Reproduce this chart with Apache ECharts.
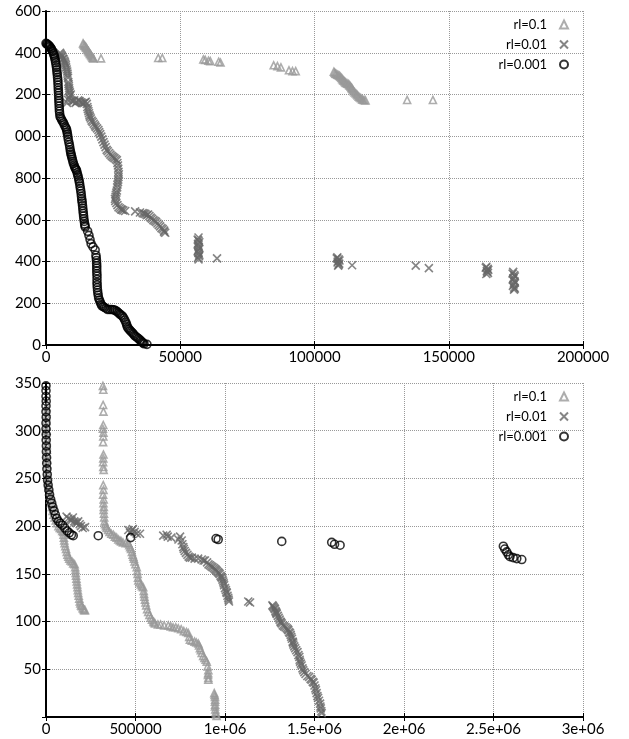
<!DOCTYPE html>
<html>
<head>
<meta charset="utf-8">
<script src="https://cdn.jsdelivr.net/npm/echarts@6/dist/echarts.min.js"></script>
<style>
  html, body { margin: 0; padding: 0; background: #fff; }
  #chart { width: 629px; height: 739px; }
</style>
</head>
<body>
<div id="chart"></div>
<script>
// series names
const seriesNames = ["rl=0.1", "rl=0.01", "rl=0.001"];

// top panel tick labels (left part of the y labels is cut off in the picture)
const topXLabels = ["0", "50000", "100000", "150000", "200000"];
const topYLabels = ["0", "200", "400", "600", "800", "000", "200", "400", "600"];
// bottom panel tick labels
const botXLabels = ["0", "500000", "1e+06", "1.5e+06", "2e+06", "2.5e+06", "3e+06"];
const botYLabels = ["", "50", "100", "150", "200", "250", "300", "350"];

// ---- top panel ----
const topTriX = [13800, 14300, 14800, 15300, 15800, 16300, 16800, 17300, 17700, 20500,
  41800, 43300, 58600, 59300, 60500, 61200, 64300, 65000, 84800, 86200, 87500, 90500, 91800, 93000,
  107200, 107800, 108500, 109300, 110000, 110600, 111200, 111800, 112600, 113200, 113800, 114300,
  115000, 115800, 116500, 117300, 118000, 119000, 134500, 144100,
  14000, 14500, 15000, 15500, 16000, 16500, 17000, 17500,
  107500, 108100, 108900, 109600, 110300, 110900, 111500, 112200, 112900, 113500, 114000, 114600,
  115400, 116100, 116900, 117700, 118500];
const topTriY = [1445, 1435, 1428, 1418, 1408, 1398, 1388, 1378, 1373, 1373,
  1375, 1375, 1368, 1366, 1362, 1360, 1357, 1353, 1340, 1336, 1330, 1316, 1312, 1312,
  1309, 1300, 1295, 1290, 1280, 1270, 1262, 1255, 1250, 1242, 1232, 1222,
  1210, 1200, 1190, 1182, 1175, 1172, 1174, 1174,
  1440, 1432, 1424, 1413, 1403, 1393, 1383, 1375,
  1305, 1298, 1292, 1285, 1275, 1266, 1258, 1252, 1246, 1237, 1228, 1216,
  1205, 1195, 1186, 1178, 1173];

const topCrossX = [5200, 5600, 6000, 6500, 7000, 7400, 7700, 8000, 8200, 8300, 8500, 8700, 9000,
  8200, 7800, 9500, 10500, 11400, 12500, 13500, 14500, 15200, 15600, 16000, 16400, 17000, 17800,
  18500, 19500, 20200, 21000, 21800, 22600, 23500, 24500, 25500, 26400, 26800, 27000, 27000, 26800,
  26500, 26400, 26000, 25700, 26200, 27000, 28000, 28800, 33200, 36000, 37000, 38000, 39000, 40000,
  41000, 42000, 43000, 44000, 44400,
  56800, 56800, 56600, 56900, 56700, 56800, 57000, 56800, 63700,
  108500, 109000, 108700, 109200, 108800, 114000, 137700, 142600,
  164000, 164500, 164200, 164600,
  174000, 174400, 174100, 174500, 174200, 174400, 174300,
  5400, 5900, 6300, 6800, 7200, 7500, 7900, 8100, 8400, 8600, 8900, 9200, 8600,
  10000, 11000, 12000, 13000, 14000, 14800,
  15400, 15800, 16200, 16700, 17400, 18200, 19000, 19800, 20600, 21400, 22200, 23000, 24000, 25000,
  26000, 26600, 26900, 27100, 26900, 26600, 26200, 25900, 25800, 26600, 27500, 28300, 29500,
  35000, 36500, 37500, 38500, 39500, 40500, 41500, 42500, 43500, 44000,
  56500, 57100, 56700, 57000, 56500, 57100, 56600,
  108300, 109300, 108600, 109000,
  163800, 164700, 164300, 164000,
  173800, 174600, 173900, 174600, 173900, 174600];
const topCrossY = [1400, 1390, 1380, 1370, 1355, 1340, 1320, 1300, 1280, 1260, 1240, 1220, 1195,
  1175, 1160, 1170, 1172, 1165, 1168, 1160, 1162, 1155, 1130, 1110, 1093, 1075, 1060,
  1045, 1030, 1010, 985, 960, 935, 920, 905, 895, 885, 860, 830, 805, 780,
  755, 740, 720, 700, 680, 660, 650, 645, 640, 632, 628, 625, 610, 598,
  590, 575, 560, 548, 538,
  515, 500, 485, 470, 455, 440, 425, 410, 415,
  420, 410, 400, 390, 380, 382, 380, 368,
  375, 365, 355, 345,
  350, 335, 320, 305, 290, 275, 265,
  1395, 1385, 1372, 1362, 1348, 1330, 1310, 1290, 1250, 1230, 1210, 1200, 1185,
  1168, 1160, 1172, 1163, 1158, 1165,
  1140, 1120, 1100, 1085, 1068, 1052, 1038, 1020, 998, 972, 948, 928, 912, 900,
  890, 872, 845, 818, 792, 768, 730, 710, 690, 670, 655, 648, 642,
  635, 630, 622, 618, 605, 594, 582, 568, 555, 542,
  505, 492, 478, 462, 448, 432, 418,
  415, 405, 395, 385,
  370, 360, 350, 340,
  342, 328, 312, 298, 283, 270];

const topCircX = [0, 500, 1000, 1500, 2000, 2500, 2800, 3200, 3500, 3800, 4000, 4200, 4400, 4500,
  4600, 4700, 4800, 4900, 5000, 5200, 5800, 6500, 7200, 7700, 8000, 8300, 8700, 9000, 9300, 9600,
  10000, 10500, 11000, 11400, 11800, 12200, 12500, 12800, 13100, 13300, 13500, 13700, 13900, 14100,
  14400, 14600, 15500, 16000, 16400, 16800, 17500, 18300, 18600, 18800, 18900, 18900, 19000, 19000,
  19100, 19300, 19600, 20200, 20800, 21800, 23000, 24500, 25500, 26500, 27500, 28500, 29300, 30000,
  30500, 31300, 32200, 33000, 34000, 35000, 35800, 36500, 37600,
  300, 800, 1300, 1800, 2300, 3000, 3300, 3600, 3900, 4100, 4300, 4450, 4550, 4650, 4750, 4850,
  4950, 5100, 5500, 6100, 6800, 7500, 7850, 8150, 8500, 8850, 9150, 9450, 9800, 10200, 10700,
  11200, 11600, 12000, 12350, 12650, 12950, 13200, 13400, 13600, 13800, 14000, 14250, 14500,
  18700, 18850, 18900, 18950, 19000, 19050, 19200, 19450, 19900, 20500, 21300, 22400, 23800,
  25000, 26000, 27000, 28000, 28900, 29700, 30200, 30900, 31700, 32600, 33500, 34500, 35400, 36100];
const topCircY = [1445, 1440, 1435, 1428, 1418, 1405, 1395, 1380, 1362, 1340, 1318, 1295, 1270, 1245,
  1220, 1195, 1170, 1145, 1120, 1095, 1080, 1065, 1045, 1030, 1010, 985, 960, 935, 915, 900,
  880, 860, 845, 835, 815, 795, 775, 750, 725, 700, 680, 655, 630, 605,
  580, 565, 545, 525, 505, 485, 470, 455, 430, 405, 380, 355, 330, 300,
  275, 250, 225, 205, 188, 180, 170, 170, 168, 160, 148, 138, 120, 100,
  82, 70, 58, 45, 35, 24, 14, 6, 3,
  1443, 1438, 1431, 1422, 1410, 1388, 1372, 1352, 1330, 1306, 1282, 1258, 1232, 1208, 1182, 1158,
  1132, 1108, 1088, 1072, 1055, 1038, 1020, 998, 972, 948, 925, 908, 890, 870, 852,
  840, 825, 805, 785, 762, 738, 712, 690, 668, 642, 618, 592, 572,
  418, 392, 368, 342, 315, 288, 262, 238, 215, 196, 184, 175, 170,
  169, 164, 154, 143, 130, 110, 90, 76, 64, 52, 40, 30, 19, 10];

// ---- bottom panel ----
const botTriX = [3000, 2000, 3000, 2000, 4000, 4000, 6000, 8000, 12000, 18000, 25000, 33000, 42000,
  55000, 70000, 85000, 97000, 100000, 104000, 112000, 120000, 130000, 145000, 160000, 165000, 168000,
  172000, 176000, 180000, 186000, 192000, 200000, 210000, 218000,
  318000, 320000, 319000, 321000, 320000, 318000, 321000, 320000, 319000, 321000, 320000, 319000,
  320000, 322000, 320000, 321000, 319000, 322000, 321000, 323000, 322000, 324000, 325000, 327000,
  330000, 339000, 355000, 376000, 395000, 413000, 430000, 460000, 470000, 480000, 488000, 495000,
  507000, 512000, 516000, 530000, 543000, 548000, 553000, 560000, 571000, 585000, 600000, 609000,
  640000, 683000, 710000, 739000, 770000, 795000, 804000, 830000, 851000, 860000, 870000, 885000,
  898000, 907000, 905000, 907000, 940000, 944000, 944000, 944000, 948000, 953000,
  2500, 2500, 3000, 3000, 5000, 5000, 7000, 10000, 15000, 21000, 29000, 37000, 48000, 62000, 77000,
  91000, 98000, 102000, 108000, 116000, 125000, 137000, 152000, 163000, 166000, 170000, 174000,
  178000, 183000, 189000, 196000, 205000, 214000,
  335000, 347000, 365000, 385000, 404000, 420000, 445000, 465000, 475000, 484000, 491000, 500000,
  510000, 514000, 523000, 536000, 546000, 550000, 556000, 565000, 578000, 592000, 604000, 625000,
  660000, 697000, 725000, 755000, 785000, 800000, 815000, 840000, 855000, 865000, 878000, 892000,
  903000, 906000, 907000, 942000, 945000, 945000, 946000, 950000];
const botTriY = [325, 315, 305, 295, 285, 275, 265, 255, 245, 236, 228, 220, 212,
  206, 200, 197, 194, 188, 182, 176, 170, 166, 163, 160, 154, 148,
  142, 136, 130, 124, 119, 116, 113, 112,
  347, 343, 327, 320, 306, 302, 298, 294, 288, 275, 271, 267, 262,
  259, 243, 238, 233, 228, 224, 220, 217, 213, 209, 205,
  202, 198, 194, 191, 188, 185, 183, 182, 178, 173, 168, 163,
  157, 150, 143, 139, 136, 129, 123, 117, 110, 104, 100, 98,
  97, 96, 94, 93, 90, 88, 81, 79, 77, 72, 67, 62,
  58, 49, 44, 39, 25, 21, 16, 11, 5, 1,
  320, 310, 300, 290, 280, 270, 260, 250, 240, 232, 224, 216, 209, 203, 198,
  195, 191, 185, 179, 173, 168, 164, 161, 157, 151, 145, 139,
  133, 127, 121, 117, 114, 112,
  200, 196, 192, 189, 186, 184, 182, 180, 176, 170, 166, 160,
  153, 146, 141, 137, 132, 126, 120, 113, 107, 102, 99, 97,
  96, 95, 94, 92, 89, 84, 80, 78, 75, 70, 64, 60,
  53, 46, 41, 23, 18, 13, 8, 3];

const botCrossX = [115000, 135000, 150000, 165000, 180000, 195000, 218000,
  460000, 470000, 485000, 507000, 525000,
  655000, 674000, 700000, 749000, 758000, 767000, 775000, 790000, 804000, 830000, 870000, 888000,
  900000, 916000, 930000, 945000, 954000, 965000, 975000, 982000, 990000, 995000, 1005000, 1010000,
  1018000, 1022000, 1130000, 1140000,
  1265000, 1272000, 1279000, 1285000, 1289000, 1300000, 1310000, 1317000, 1330000, 1345000, 1354000,
  1363000, 1370000, 1378000, 1382000, 1392000, 1405000, 1415000, 1419000, 1428000, 1437000, 1450000,
  1470000, 1484000, 1495000, 1505000, 1512000, 1520000, 1531000, 1535000, 1540000,
  125000, 142000, 158000, 172000, 188000, 205000, 478000, 495000,
  680000, 740000, 762000, 770000, 782000, 797000, 815000, 850000, 880000, 908000, 923000, 938000,
  950000, 960000, 970000, 979000, 986000, 993000, 1000000, 1008000, 1014000, 1020000,
  1268000, 1276000, 1282000, 1287000, 1295000, 1305000, 1313000, 1323000, 1338000, 1350000, 1358000,
  1367000, 1374000, 1380000, 1387000, 1398000, 1410000, 1417000, 1424000, 1433000, 1443000, 1460000,
  1478000, 1490000, 1500000, 1508000, 1516000, 1525000, 1533000, 1538000];
const botCrossY = [210, 207, 209, 204, 205, 200, 199,
  196, 193, 197, 192, 192,
  190, 191, 188, 189, 185, 178, 174, 170, 167, 166, 165, 164,
  162, 159, 157, 155, 153, 151, 148, 146, 142, 138, 133, 130,
  125, 121, 121, 120,
  117, 115, 113, 110, 108, 104, 100, 98, 95, 93, 91,
  88, 84, 79, 76, 72, 68, 63, 58, 54, 49, 45,
  42, 39, 36, 30, 25, 20, 14, 9, 4,
  208, 206, 205, 203, 202, 198, 195, 194,
  189, 186, 181, 176, 172, 168, 167, 166, 164, 160, 158, 156,
  154, 152, 150, 147, 144, 140, 135, 131, 127, 123,
  116, 114, 111, 109, 106, 102, 99, 96, 94, 92, 89,
  86, 82, 78, 74, 70, 65, 60, 56, 51, 47, 43,
  40, 37, 33, 28, 22, 17, 11, 6];

const botCircX = [0, 0, 0, 1000, 0, 0, 1000, 0, 0, 1000, 1000, 2000, 2000, 3000, 4000, 5000, 7000,
  9000, 12000, 16000, 20000, 26000, 32000, 38000, 45000, 52000, 60000, 70000, 80000, 92000, 105000,
  118000, 130000, 142000, 152000, 292000, 473000, 950000, 962000, 1317000, 1596000, 1612000, 1643000,
  2555000, 2563000, 2574000, 2583000, 2592000, 2610000, 2630000, 2658000];
const botCircY = [347, 342, 336, 331, 326, 320, 314, 308, 302, 296, 290, 284, 278, 272, 266, 260, 254,
  248, 243, 238, 233, 228, 224, 220, 216, 212, 208, 205, 203, 201, 198,
  195, 193, 191, 190, 190, 188, 187, 186, 184, 183, 181, 180,
  179, 176, 173, 170, 168, 167, 166, 165];

const pairs = (xs, ys) => xs.map((x, i) => [x, ys[i]]);

const font = "Lato";
const crossPath = "path://M0,0L10,10M10,0L0,10";

function mkSeries(xs, ys, kind, axisIdx) {
  const base = { type: "scatter", xAxisIndex: axisIdx, yAxisIndex: axisIdx, data: pairs(xs, ys) };
  if (kind === 0) {
    return Object.assign(base, { name: seriesNames[0], symbol: "triangle", symbolSize: 7,
      itemStyle: { color: "rgba(0,0,0,0)", borderColor: "#999", borderWidth: 1.6 } });
  }
  if (kind === 1) {
    return Object.assign(base, { name: seriesNames[1], symbol: crossPath, symbolSize: 8,
      itemStyle: { color: "rgba(0,0,0,0)", borderColor: "#666", borderWidth: 1.6 } });
  }
  return Object.assign(base, { name: seriesNames[2], symbol: "circle", symbolSize: 8,
    itemStyle: { color: "rgba(0,0,0,0)", borderColor: "#000", borderWidth: 1.6 } });
}

function mainX(gi, max, interval, labels) {
  return {
    gridIndex: gi, type: "value", min: 0, max: max, interval: interval, position: "bottom",
    axisLine: { show: true, onZero: false, lineStyle: { color: "#000", width: 2 } },
    axisTick: { show: true, inside: true, length: 4, lineStyle: { color: "#000" } },
    axisLabel: { color: "#000", fontFamily: font, fontSize: 15, margin: 5,
      formatter: (v) => labels[Math.round(v / interval)] },
    splitLine: { show: true, lineStyle: { color: "#999", type: "dotted", width: 1 } }
  };
}
function mirrorX(gi, max, interval) {
  return {
    gridIndex: gi, type: "value", min: 0, max: max, interval: interval, position: "top",
    axisLine: { show: false }, axisLabel: { show: false }, splitLine: { show: false },
    axisTick: { show: true, inside: true, length: 4, lineStyle: { color: "#000" } }
  };
}
function mainY(gi, max, interval, labels, showMin) {
  return {
    gridIndex: gi, type: "value", min: 0, max: max, interval: interval, position: "left",
    axisLine: { show: true, onZero: false, lineStyle: { color: "#000", width: 2 } },
    axisTick: { show: true, inside: true, length: 4, lineStyle: { color: "#000" } },
    axisLabel: { color: "#000", fontFamily: font, fontSize: 15, margin: 5, showMinLabel: showMin,
      formatter: (v) => labels[Math.round(v / interval)] },
    splitLine: { show: true, lineStyle: { color: "#999", type: "dotted", width: 1 } }
  };
}
function mirrorY(gi, max, interval) {
  return {
    gridIndex: gi, type: "value", min: 0, max: max, interval: interval, position: "right",
    axisLine: { show: false }, axisLabel: { show: false }, splitLine: { show: false },
    axisTick: { show: true, inside: true, length: 4, lineStyle: { color: "#000" } }
  };
}
function mkLegend(top) {
  return {
    data: seriesNames, orient: "vertical", align: "right", right: 60, top: top, padding: 0,
    itemWidth: 8, itemHeight: 8, itemGap: 7,
    textStyle: { color: "#000", fontFamily: font, fontSize: 13, padding: [0, 8, 0, 0] }
  };
}

const myChart = echarts.init(document.getElementById("chart"), null, { renderer: "canvas" });
myChart.setOption({
  animation: false,
  backgroundColor: "#fff",
  grid: [
    { left: 46, top: 11, width: 537, height: 334 },
    { left: 46, top: 383, width: 537, height: 334 }
  ],
  legend: [mkLegend(18), mkLegend(390)],
  xAxis: [mainX(0, 200000, 50000, topXLabels), mirrorX(0, 200000, 50000),
          mainX(1, 3000000, 500000, botXLabels), mirrorX(1, 3000000, 500000)],
  yAxis: [mainY(0, 1600, 200, topYLabels, true), mirrorY(0, 1600, 200),
          mainY(1, 350, 50, botYLabels, false), mirrorY(1, 350, 50)],
  series: [
    mkSeries(topTriX, topTriY, 0, 0),
    mkSeries(topCrossX, topCrossY, 1, 0),
    mkSeries(topCircX, topCircY, 2, 0),
    mkSeries(botTriX, botTriY, 0, 2),
    mkSeries(botCrossX, botCrossY, 1, 2),
    mkSeries(botCircX, botCircY, 2, 2)
  ]
});
</script>
</body>
</html>
